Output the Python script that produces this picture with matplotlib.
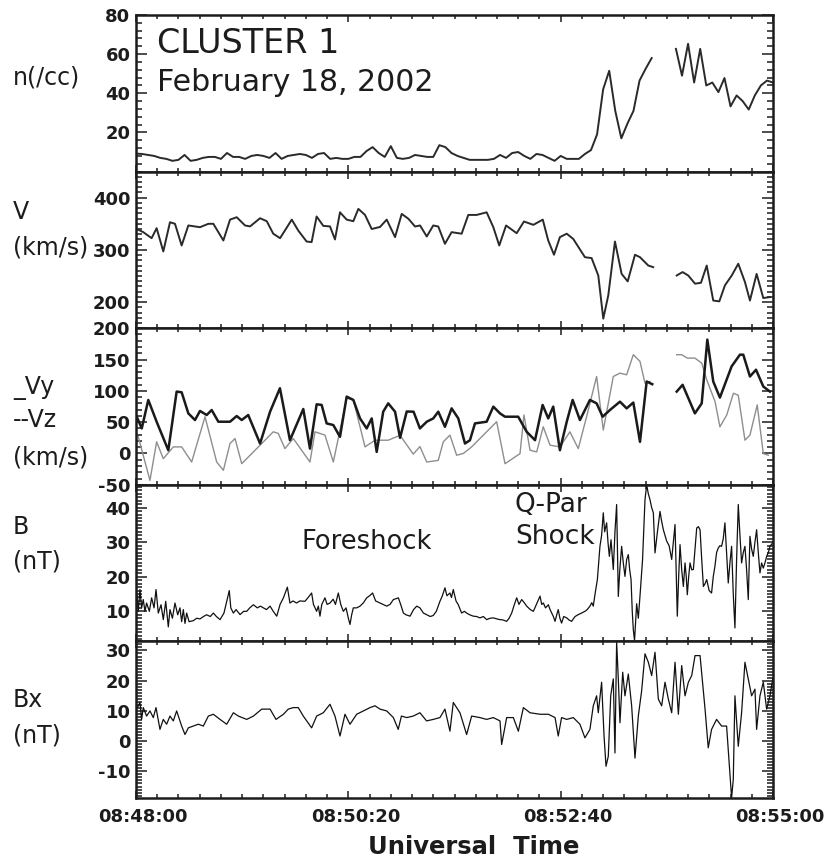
import numpy as np
import matplotlib
matplotlib.use("Agg")
import matplotlib.pyplot as plt
import matplotlib.transforms as mtransforms
from matplotlib.ticker import FixedLocator, MultipleLocator, NullFormatter

nan = np.nan

# Seconds after 08:48:00 UT
TICK_SECONDS = [0, 140, 280, 420]
TICK_LABELS = ["08:48:00", "08:50:20", "08:52:40", "08:55:00"]

# Ion density (4 s spin resolution)
n_time = np.arange(0, 424, 4)
n_cc = [9.2, 9.0, 8.5, 8.0, 7.0, 6.5, 5.5, 6.0, 8.5, 5.5,
        6.0, 7.0, 7.5, 7.5, 6.5, 9.5, 7.5, 7.5, 6.5, 8.0,
        8.5, 8.0, 7.0, 9.5, 6.5, 8.0, 8.5, 9.0, 8.5, 7.0,
        9.0, 9.5, 6.5, 7.0, 6.5, 6.5, 7.5, 7.5, 10.5, 12.5,
        9.5, 7.5, 13.0, 7.0, 6.5, 7.0, 8.5, 8.0, 7.5, 7.5,
        13.5, 12.5, 9.5, 8.0, 7.0, 6.0, 6.0, 6.0, 6.0, 6.5,
        8.5, 7.0, 9.5, 10.0, 8.0, 6.5, 9.0, 8.5, 7.0, 5.5,
        8.0, 6.5, 6.5, 6.5, 9.0, 11.0, 19.0, 42.0, 51.5, 31.0,
        17.0, 24.5, 31.0, 46.5, 52.5, 58.0, nan, nan, nan, 62.7,
        49.0, 65.3, 45.5, 62.7, 44.0, 45.5, 40.6, 47.8, 33.3, 38.9,
        36.0, 31.7, 38.9, 44.0, 46.5, 45.5]

# Bulk speed
v_time = [0.5, 4.8, 10.3, 13.6, 18.0, 22.4, 25.7, 30.1, 34.5, 42.2,
          47.7, 51.0, 57.6, 62.0, 66.4, 71.9, 75.2, 81.8, 86.2, 90.5,
          95.0, 102.7, 107.0, 112.5, 115.8, 119.1, 123.5, 127.9, 131.2, 134.5,
          138.9, 143.3, 146.6, 151.0, 155.4, 160.9, 165.3, 170.8, 175.2, 179.6,
          184.0, 187.3, 191.7, 196.0, 199.3, 203.7, 208.1, 214.7, 219.1, 224.6,
          231.2, 235.6, 239.5, 244.0, 251.0, 255.8, 262.0, 268.2, 271.8, 275.6,
          279.5, 284.0, 288.3, 296.0, 300.4, 304.8, 308.1, 311.4, 315.8, 320.2,
          324.2, 329.0, 332.3, 337.8, 341.0, 348.0, 356.5, 360.4, 364.1, 368.6,
          372.5, 376.3, 380.6, 384.6, 388.3, 392.8, 397.1, 401.5, 404.8, 409.2,
          413.6, 418.0]
v_kms = [340, 334, 322.5, 341.6, 297, 353, 350, 308.5, 346.8, 343.5,
         350, 350, 318, 358, 362.6, 346.8, 345, 360.7, 355, 331,
         322.5, 358, 337, 316, 315, 364, 346, 345, 320, 372,
         358, 355, 378.6, 367, 340, 344, 358, 324.5, 369, 359.6,
         344.8, 346.8, 325.7, 346.8, 344.8, 311.7, 334, 331, 367, 367,
         372, 343.5, 308.5, 346.8, 332, 354.4, 348, 358, 318, 290.7,
         324.5, 331, 321, 286, 284.3, 251, 168.3, 213, 316, 254,
         239.7, 290.7, 286, 270, 267, nan, 251, 257.5, 251, 235.3,
         237, 270, 203, 201.4, 232, 251, 273.5, 238.4, 203, 254,
         207.8, 209.6]

# Velocity components
vy_time = [0.5, 3.8, 8.1, 13.6, 21.3, 26.8, 30.1, 34.5, 38.9, 42.2,
           46.6, 49.9, 54.3, 62.0, 66.4, 69.7, 74.0, 81.8, 88.4, 94.9,
           101.5, 110.3, 114.7, 119.1, 122.4, 125.7, 130.1, 134.5, 138.9, 143.3,
           147.7, 152.1, 155.4, 158.7, 163.0, 166.3, 170.8, 174.1, 178.5, 183.0,
           187.2, 191.7, 196.0, 199.3, 203.7, 208.1, 212.5, 216.9, 220.2, 223.5,
           231.2, 235.6, 240.0, 243.3, 252.0, 257.6, 263.1, 268.1, 271.8, 275.1,
           279.5, 284.0, 287.9, 292.7, 299.3, 303.7, 307.7, 312.5, 319.1, 323.5,
           327.9, 332.3, 336.7, 340.4, 348.0, 356.5, 360.4, 368.5, 373.0, 376.7,
           380.6, 385.0, 392.7, 398.2, 400.4, 404.8, 408.8, 413.6, 418.0]
vy_kms = [58.7, 40, 85.5, 50.7, 5.2, 98.8, 97.7, 64, 53.4, 67.9,
          61.4, 69.4, 50.7, 50.7, 59.8, 53.4, 61.4, 15.9, 66.7, 104.2,
          21.2, 71, 7.8, 78.5, 77.5, 48, 45.4, 26.6, 90.8, 85.5,
          56, 40, 56, 2.5, 66.7, 80, 66.7, 25, 67, 66.7,
          40, 50.7, 56, 66.7, 42.6, 72, 56, 15.9, 21.2, 48,
          50.7, 74.8, 64, 58.7, 58.7, 34.6, 21.2, 77.5, 56, 74.8,
          5.2, 50.7, 85.5, 53.4, 85.5, 80, 58.7, 69.4, 82.7, 72,
          81.3, 18.6, 114.9, 110.6, nan, 98.8, 109.6, 64, 80, 181.8,
          114.9, 89.2, 139, 157.7, 157.7, 122.9, 133.7, 106.9, 98.8]

vz_time = [1.5, 9.2, 13.6, 18.0, 24.6, 30.1, 36.7, 45.5, 53.2, 57.6,
           62.0, 65.3, 69.7, 81.8, 90.5, 93.8, 98.2, 103.7, 114.7, 118.0,
           124.6, 130.1, 138.9, 143.3, 151.0, 157.6, 166.3, 174.1, 182.8, 187.2,
           191.7, 199.3, 202.6, 207.0, 211.4, 215.8, 221.3, 230.1, 237.8, 243.3,
           253.2, 255.8, 259.8, 264.2, 268.5, 273.0, 279.5, 286.1, 291.6, 297.1,
           303.7, 308.1, 314.7, 319.1, 323.5, 327.9, 332.3, 335.6, 338.9, 348.0,
           356.5, 359.8, 363.5, 368.5, 373.0, 376.3, 381.8, 385.0, 389.5, 393.9,
           397.1, 401.5, 404.8, 409.6, 413.6, 416.9]
vz_kms = [26.6, -43, 18.6, -8.3, 10.5, 10.5, -13.6, 58.7, -13.6, -26.9,
          15.9, 23.9, -16.3, 13.2, 34.6, 32, 7.8, 23.9, -13.6, 34.6,
          29.3, -13.6, 88.1, 85.5, 10.5, 21.2, 21.2, 29, -1, 11,
          -13.6, -11, 18.6, 29.3, -2.8, 0, 10.5, 32, 50.7, -16.3,
          -0.2, 61.4, 5.2, 2.5, 42.6, 13.2, 10.5, 34.6, 7.8, 58.7,
          122.9, 37.4, 122.9, 128.3, 125.6, 157.7, 147, 112.2, 114.9, nan,
          157.7, 157.7, 152.3, 152.3, 144.3, 117.6, 82.7, 42.6, 61.4, 96.1,
          93, 21.2, 29.3, 77.5, -0.2, -2.8]

# Magnetic field magnitude
b_time = [0.5, 1.5, 2.6, 3.7, 4.8, 5.9, 7.0, 8.8, 10.3, 11.9,
          13.2, 14.7, 16.5, 18.0, 19.6, 21.3, 22.4, 24.0, 25.7, 27.5,
          29.0, 30.1, 31.2, 32.3, 33.4, 35.0, 37.8, 40.0, 42.2, 44.5,
          46.6, 49.0, 51.0, 53.0, 55.4, 58.0, 61.5, 62.5, 64.2, 66.0,
          68.6, 71.0, 73.0, 75.0, 77.4, 80.0, 82.0, 84.0, 86.0, 88.4,
          90.5, 92.8, 95.0, 97.2, 99.8, 101.5, 103.5, 105.9, 108.0, 111.4,
          113.5, 115.8, 117.0, 119.1, 120.2, 121.3, 122.5, 124.6, 126.0, 127.9,
          130.0, 131.5, 133.4, 135.0, 136.7, 138.5, 140.0, 141.1, 142.2, 143.3,
          145.5, 147.7, 150.0, 152.1, 154.0, 156.0, 158.0, 160.9, 163.0, 165.3,
          167.5, 169.7, 173.0, 174.5, 176.3, 178.0, 180.7, 183.0, 185.1, 187.2,
          189.5, 191.6, 194.0, 196.0, 198.0, 200.4, 202.0, 203.7, 205.0, 207.0,
          208.0, 209.2, 211.0, 212.5, 214.7, 216.5, 218.0, 220.0, 222.4, 224.5,
          226.8, 229.0, 231.2, 233.5, 235.6, 238.0, 240.0, 242.0, 244.4, 246.0,
          247.7, 249.5, 251.0, 252.5, 254.3, 256.0, 257.6, 260.0, 262.0, 264.0,
          266.4, 267.5, 268.6, 270.0, 271.9, 273.0, 274.1, 275.2, 276.3, 277.4,
          278.4, 279.5, 280.6, 282.0, 284.0, 285.5, 287.2, 289.5, 291.6, 293.8,
          296.0, 297.5, 299.3, 300.5, 301.5, 302.6, 304.2, 305.9, 307.0, 308.1,
          309.0, 310.3, 311.2, 312.1, 313.2, 314.7, 315.8, 316.9, 318.0, 319.0,
          320.2, 321.3, 322.4, 323.5, 324.6, 325.5, 326.4, 327.2, 327.9, 328.7,
          330.1, 331.2, 332.3, 334.0, 335.6, 336.7, 337.8, 338.9, 340.0, 341.1,
          342.2, 343.8, 345.5, 346.6, 347.7, 348.8, 349.9, 351.5, 353.2, 354.3,
          355.4, 356.9, 357.8, 358.7, 359.8, 360.9, 362.0, 362.8, 363.5, 364.4,
          365.3, 366.4, 367.5, 368.6, 369.7, 370.8, 371.9, 373.0, 374.1, 375.2,
          376.3, 377.9, 379.5, 380.6, 381.7, 382.8, 383.9, 385.0, 386.1, 387.2,
          388.3, 389.4, 390.5, 391.6, 392.7, 393.8, 394.9, 396.0, 397.1, 398.2,
          399.3, 400.4, 401.5, 402.6, 403.7, 404.8, 405.9, 407.0, 408.1, 409.2,
          410.3, 411.4, 412.5, 413.6, 414.7, 415.8, 416.9, 418.0, 419.8]
b_nt = [15.3, 10.0, 16.3, 11.0, 13.4, 10.0, 12.4, 10.0, 13.9, 11.0,
        16.3, 9.5, 11.9, 7.6, 12.9, 5.5, 10.5, 8.0, 12.4, 9.0,
        11.0, 7.0, 10.5, 6.5, 9.5, 7.0, 7.3, 8.0, 7.8, 8.5,
        9.0, 8.5, 9.5, 8.5, 7.6, 9.5, 16.0, 11.0, 9.5, 10.5,
        9.05, 10.0, 10.0, 11.0, 11.9, 11.0, 11.5, 11.0, 10.5, 11.5,
        10.0, 8.6, 12.0, 13.9, 17.0, 12.4, 13.0, 12.4, 13.0, 12.9,
        14.0, 15.3, 12.0, 10.0, 11.5, 8.6, 12.0, 13.9, 12.0, 12.4,
        13.5, 12.0, 15.3, 12.0, 10.0, 11.0, 8.0, 6.2, 9.0, 11.0,
        11.0, 11.5, 12.5, 13.9, 14.5, 15.3, 13.0, 12.4, 12.0, 11.5,
        12.0, 13.4, 13.9, 12.0, 9.5, 9.0, 8.6, 10.5, 11.5, 11.0,
        9.5, 9.05, 8.5, 8.8, 10.0, 12.9, 14.5, 16.8, 14.5, 15.3,
        14.0, 16.3, 13.0, 11.9, 9.5, 10.0, 9.5, 9.0, 8.6, 8.5,
        8.1, 8.5, 7.6, 8.0, 8.1, 7.8, 7.6, 7.5, 7.1, 8.0,
        9.5, 12.0, 13.9, 12.0, 13.4, 12.5, 11.5, 10.5, 10.0, 12.0,
        14.4, 12.0, 12.4, 11.0, 11.9, 10.5, 9.5, 8.5, 7.1, 9.0,
        10.5, 8.0, 6.6, 8.5, 8.1, 7.5, 7.1, 8.5, 9.05, 9.5,
        10.0, 10.5, 11.5, 12.5, 11.5, 14.8, 19.2, 28.8, 32.0, 38.5,
        33.0, 35.6, 30.0, 25.9, 30.7, 22.1, 33.0, 40.9, 14.3, 22.0,
        28.8, 24.0, 20.1, 25.0, 26.4, 22.0, 19.2, 10.0, 4.7, 1.5,
        12.2, 8.0, 14.4, 25.0, 42.3, 46.6, 44.0, 42.3, 40.0, 38.5,
        26.9, 33.0, 38.9, 36.0, 33.6, 32.0, 30.3, 29.0, 25.0, 30.0,
        35.1, 8.6, 20.0, 29.3, 22.0, 17.2, 24.0, 20.0, 14.8, 20.0,
        24.0, 22.0, 22.1, 28.0, 34.1, 34.5, 33.6, 25.0, 17.2, 18.0,
        19.2, 16.0, 15.3, 20.0, 23.0, 27.0, 28.3, 29.0, 28.8, 31.0,
        35.6, 27.0, 18.2, 24.0, 28.8, 15.0, 5.2, 25.0, 40.9, 32.0,
        24.0, 27.0, 28.8, 22.0, 13.4, 31.7, 28.0, 25.9, 30.0, 33.6,
        27.0, 21.1, 24.0, 22.5, 24.0, 25.9, 27.0, 28.8, 29.8]

# Bx component
bx_time = [0.45, 2.6, 3.7, 4.8, 7.0, 9.2, 11.4, 13.2, 15.8, 18.0,
           20.2, 22.4, 24.6, 26.8, 30.1, 32.3, 34.5, 37.8, 41.1, 44.4,
           47.7, 51.0, 55.4, 59.8, 64.2, 67.5, 73.0, 77.4, 82.9, 88.4,
           92.3, 97.2, 100.4, 103.7, 107.0, 110.3, 115.8, 119.1, 123.5, 127.9,
           131.2, 134.5, 137.8, 141.1, 145.5, 149.9, 154.3, 157.6, 160.9, 165.3,
           169.7, 172.9, 175.0, 178.5, 182.8, 187.2, 191.6, 196.0, 200.4, 203.7,
           207.0, 209.2, 213.6, 218.0, 221.3, 226.8, 231.2, 235.6, 240.0, 241.1,
           244.4, 248.8, 252.1, 255.4, 259.8, 266.4, 271.9, 276.3, 278.4, 280.6,
           284.0, 288.3, 292.7, 296.0, 299.3, 301.5, 303.7, 304.8, 307.0, 308.6,
           309.9, 311.4, 313.0, 314.7, 315.8, 316.9, 318.0, 319.1, 320.9, 322.4,
           324.6, 326.8, 329.0, 331.2, 333.4, 335.6, 337.8, 340.0, 342.2, 344.4,
           346.6, 348.8, 351.0, 353.2, 355.4, 357.6, 359.8, 362.0, 364.2, 366.4,
           368.6, 371.9, 375.2, 377.3, 379.5, 382.8, 386.1, 389.4, 391.6, 392.7,
           393.8, 394.9, 397.1, 399.3, 401.5, 403.7, 405.9, 408.1, 409.2, 411.4,
           413.6, 415.8, 418.0, 419.8]
bx_nt = [10.6, 12.8, 7.2, 11.1, 8.3, 10.0, 7.8, 11.1, 3.9, 7.2,
         5.6, 8.3, 6.7, 10.0, 5.0, 2.2, 4.4, 5.0, 5.6, 5.0,
         8.3, 8.9, 7.2, 5.6, 9.4, 8.3, 7.2, 8.3, 10.6, 10.6,
         7.2, 8.9, 10.6, 11.1, 11.1, 8.3, 4.4, 8.3, 9.4, 12.2,
         8.3, 1.7, 8.9, 5.6, 8.9, 10.0, 11.1, 11.7, 10.6, 10.0,
         7.8, 3.9, 8.3, 7.8, 8.3, 9.4, 6.7, 7.2, 7.8, 10.6,
         3.3, 12.8, 9.4, 2.2, 8.3, 7.8, 7.2, 7.8, 6.7, -1.1,
         7.8, 7.8, 3.3, 11.1, 9.4, 8.9, 8.9, 7.8, 1.7, 7.8,
         7.2, 7.8, 5.6, 1.1, 3.9, 11.7, 15.0, 9.4, 19.5, 1.7,
         -8.3, -5.0, 15.0, 20.6, -3.9, 32.8, 20.6, 6.1, 22.8, 15.0,
         22.2, 11.7, -5.6, 8.3, 16.7, 28.9, 26.1, 21.7, 29.4, 13.9,
         11.7, 19.5, 13.9, 9.4, 26.1, 8.9, 25.0, 15.0, 19.5, 21.7,
         28.3, 28.3, 10.6, -2.2, 3.9, 7.2, 5.0, 5.0, -10.6, -18.7,
         -12.8, 15.0, -1.7, 9.4, 26.1, 20.6, 15.0, 17.2, 3.9, 15.0,
         19.5, 10.6, 15.0, 20.6]

W, H = 827, 861
plt.rcParams["font.family"] = "DejaVu Sans"
plt.rcParams["font.weight"] = "bold"
fig = plt.figure(figsize=(W / 100, H / 100), dpi=100)

TOP, BOTTOM = 15.0, 798.0
LEFT, RIGHT = 136.0, 773.0
panel_h = (BOTTOM - TOP) / 5
INK = "#1c1c1c"


def fpos(x, y):
    return x / W, 1 - y / H


def make_panel(i, ylim, majors, minor):
    y0 = TOP + panel_h * (i + 1)
    ax = fig.add_axes([LEFT / W, 1 - y0 / H, (RIGHT - LEFT) / W, panel_h / H])
    ax.set_xlim(0, 420)
    ax.set_ylim(*ylim)
    ax.xaxis.set_major_locator(FixedLocator(TICK_SECONDS))
    ax.xaxis.set_minor_locator(MultipleLocator(14))
    ax.yaxis.set_major_locator(FixedLocator(majors))
    ax.yaxis.set_minor_locator(MultipleLocator(minor))
    ax.tick_params(which="both", direction="in", top=True, right=True,
                   color=INK, width=1.1)
    ax.tick_params(axis="y", which="major", length=8, labelsize=13, pad=4,
                   labelcolor=INK)
    ax.tick_params(axis="y", which="minor", length=4)
    ax.tick_params(axis="x", which="major", length=5, labelsize=13, pad=7,
                   labelcolor=INK)
    ax.tick_params(axis="x", which="minor", length=3)
    ax.xaxis.set_major_formatter(NullFormatter())
    for s in ax.spines.values():
        s.set_linewidth(1.8)
        s.set_color(INK)
    return ax


ax1 = make_panel(0, (0, 80), [20, 40, 60, 80], 4)
ax1.plot(n_time, n_cc, color="#2a2a2a", lw=1.4)

ax2 = make_panel(1, (150, 450), [200, 300, 400], 10)
ax2.plot(v_time, v_kms, color="#2a2a2a", lw=1.4)

ax3 = make_panel(2, (-50, 200), [-50, 0, 50, 100, 150, 200], 10)
ax3.plot(vz_time, vz_kms, color="#8e8e8e", lw=1.0)
ax3.plot(vy_time, vy_kms, color="#1a1a1a", lw=1.8)

ax4 = make_panel(3, (1.3, 46.6), [10, 20, 30, 40], 1)
ax4.plot(b_time, b_nt, color="#111111", lw=0.9)

ax5 = make_panel(4, (-18.8, 33.0), [-10, 0, 10, 20, 30], 1)
ax5.plot(bx_time, bx_nt, color="#111111", lw=0.9)
ax5.set_xticks(TICK_SECONDS)
ax5.set_xticklabels(TICK_LABELS)
# time labels sit slightly right of their ticks
shift = mtransforms.ScaledTranslation(0.07, 0, fig.dpi_scale_trans)
for lab in ax5.get_xticklabels():
    lab.set_transform(lab.get_transform() + shift)

for ax in (ax1, ax2, ax3, ax4, ax5):
    ax.set_yticklabels([("%g" % v) for v in ax.get_yticks()])

# Panel annotations
normal = dict(fontweight="normal", color=INK)
fig.text(*fpos(157, 53), "CLUSTER 1", fontsize=24, va="baseline", **normal)
fig.text(*fpos(157, 91), "February 18, 2002", fontsize=21.6, va="baseline", **normal)
fig.text(*fpos(367, 542), "Foreshock", fontsize=18.5, ha="center", va="center", **normal)
fig.text(*fpos(515, 505), "Q-Par", fontsize=19, va="center", **normal)
fig.text(*fpos(515, 537), "Shock", fontsize=19, va="center", **normal)

# Axis labels on the left
for label, y in [("n(/cc)", 77), ("V", 212), ("(km/s)", 247),
                 ("_Vy", 388), ("--Vz", 420), ("(km/s)", 457),
                 ("B", 527), ("(nT)", 562), ("Bx", 700), ("(nT)", 735)]:
    fig.text(*fpos(13, y), label, fontsize=17, va="center", **normal)

fig.text(*fpos(474, 847), "Universal  Time", fontsize=17.5, ha="center",
         va="center", fontweight="bold", color=INK)

fig.savefig("out.png", dpi=100, facecolor="white")
